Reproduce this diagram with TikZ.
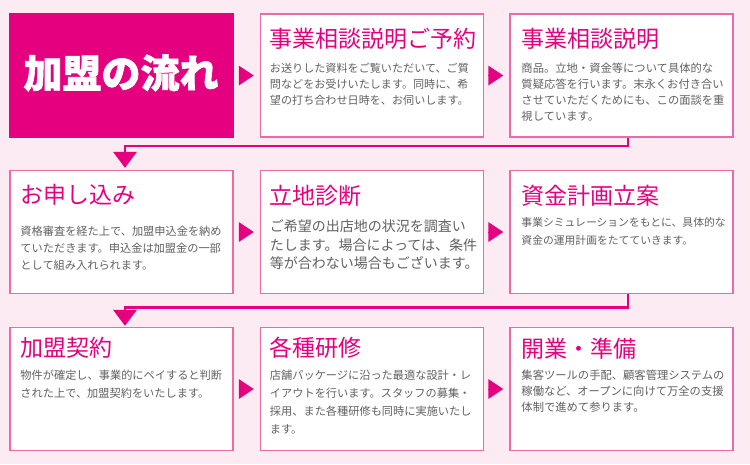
\documentclass[tikz,border=0pt]{standalone}
\usepackage{fontspec}
\setmainfont{Noto Sans CJK JP}[BoldFeatures={FakeBold=1.5}]
\usetikzlibrary{arrows.meta,calc}
\definecolor{brand}{HTML}{E4007F}
\definecolor{boxline}{HTML}{EE6AA7}
\definecolor{bgpink}{HTML}{FDEBF3}
\definecolor{bodygray}{HTML}{616161}
\tikzset{
  stepbox/.style={draw=boxline, line width=1.5pt, fill=white, minimum width=223pt, minimum height=123pt, inner sep=0pt},
  steptitle/.style={anchor=west, inner sep=0pt, text=brand, font=\fontsize{23}{28}\selectfont},
  stepbody/.style={anchor=base west, inner sep=0pt, text=bodygray, text width=222pt, align=left},
  nextarrow/.style={-{Triangle[width=20pt,length=15pt,line width=0pt]}, brand, line width=1pt, shorten <=6pt, shorten >=6pt},
  rowarrow/.style={-{Triangle[width=24pt,length=16pt,line width=0pt]}, brand, line width=2.5pt}
}
\begin{document}
\begin{tikzpicture}[x=1pt,y=-1pt]
\useasboundingbox (0,0) rectangle (750,464);
\fill[bgpink] (0,0) rectangle (750,464);
\node[fill=brand, minimum width=225pt, minimum height=125pt, inner sep=0pt] (r1c1) at (121.5,75.5) {};
\node[text=white, inner sep=0pt, font=\fontsize{39}{44}\selectfont\bfseries] (flowtitle) at (121,73) {加盟の流れ};
\foreach \n/\x/\y in {r1c2/372/75.5, r1c3/621.5/75.5, r2c1/121.5/232, r2c2/372/232, r2c3/621.5/232, r3c1/121.5/389, r3c2/372/389, r3c3/621.5/389}
  \node[stepbox] (\n) at (\x,\y) {};
% step titles
\foreach \n/\dx/\dy/\ttl in {r1c2/10/26/事業相談説明ご予約, r1c3/12/26/事業相談説明, r2c1/11/25/お申し込み, r2c2/10/26.5/立地診断, r2c3/12/26/資金計画立案, r3c1/11/21/加盟契約, r3c2/10/21/各種研修, r3c3/12/22/開業・準備}
  \node[steptitle] (t\n) at ($(\n.north west)+(\dx,\dy)$) {\ttl};
% step texts
\foreach \n/\dx/\dy/\fs/\ls/\txt in {
  r1c2/10/59/11.1/16/{お送りした資料をご覧いただいて、ご質\\問などをお受けいたします。同時に、希\\望の打ち合わせ日時を、お伺いします。},
  r1c3/12/59/11.3/16/{商品。立地・資金等について具体的な\\質疑応答を行います。末永くお付き合い\\させていただくためにも、この面談を重\\視しています。},
  r2c1/11/66/11.2/17/{資格審査を経た上で、加盟申込金を納め\\ていただきます。申込金は加盟金の一部\\として組み入れられます。},
  r2c2/10/62/14/18.5/{ご希望の出店地の状況を調査い\\たします。場合によっては、条件\\等が合わない場合もございます。},
  r2c3/12/57/10.8/17.5/{事業シミュレーションをもとに、具体的な\\資金の運用計画をたてていきます。},
  r3c1/11/53/11.2/18/{物件が確定し、事業的にペイすると判断\\された上で、加盟契約をいたします。},
  r3c2/10/53/11.2/18/{店舗パッケージに沿った最適な設計・レ\\イアウトを行います。スタッフの募集・\\採用、また各種研修も同時に実施いたし\\ます。},
  r3c3/12/53/11.3/16/{集客ツールの手配、顧客管理システムの\\稼働など、オープンに向けて万全の支援\\体制で進めて参ります。}}
  \node[stepbody, font=\fontsize{\fs}{\ls}\selectfont] (b\n) at ($(\n.north west)+(\dx,\dy)$) {\txt};
% arrows
\foreach \r in {1,2,3} {
  \draw[nextarrow] (r\r c1) -- (r\r c2);
  \draw[nextarrow] (r\r c2) -- (r\r c3);
}
\draw[rowarrow, shorten >=2pt] ([xshift=6.5pt]r1c3.south) -- ++(0,8) -| ([xshift=3.5pt]r2c1.north);
\draw[rowarrow, shorten >=1pt] ([xshift=6.5pt]r2c3.south) -- ++(0,13) -| ([xshift=3.5pt]r3c1.north);
\end{tikzpicture}
\end{document}
